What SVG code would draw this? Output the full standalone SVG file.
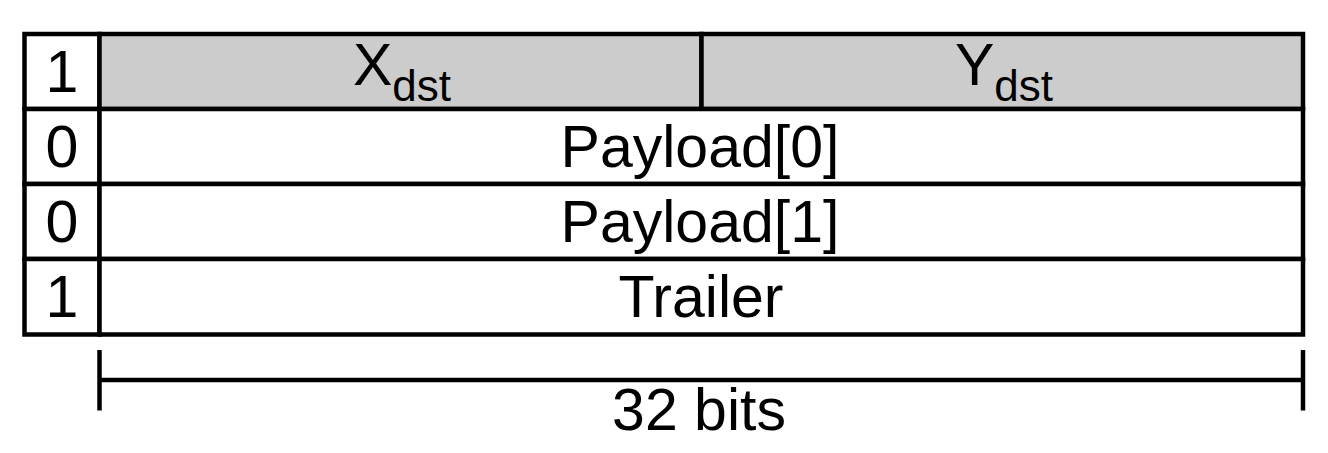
<svg xmlns="http://www.w3.org/2000/svg" width="1328" height="453" viewBox="0 0 1328 453">
  <style>
    .ln { stroke: #000; stroke-width: 4.5; fill: none; }
    .cell { stroke: #000; stroke-width: 4.5; fill: #fff; }
    .hdr { stroke: #000; stroke-width: 4.5; fill: #cccccc; }
    .t { font-family: "Liberation Sans", Arial, sans-serif; font-size: 59px; fill: #000; text-anchor: middle; }
    .sub { font-size: 44px; }
  </style>
  <rect x="0" y="0" width="1328" height="453" fill="#fff"/>
  <g id="row-header">
    <rect class="cell" x="24.5" y="34" width="75" height="75"/>
    <rect class="hdr" x="99.5" y="34" width="602" height="75"/>
    <rect class="hdr" x="701.5" y="34" width="601.5" height="75"/>
    <text class="t" x="62" y="92">1</text>
    <text class="t" x="402" y="85">X<tspan class="sub" dy="16">dst</tspan></text>
    <text class="t" x="1004" y="85">Y<tspan class="sub" dy="16">dst</tspan></text>
  </g>
  <g id="row-payload0">
    <rect class="cell" x="24.5" y="109" width="75" height="75"/>
    <rect class="cell" x="99.5" y="109" width="1203.5" height="75"/>
    <text class="t" x="62" y="167">0</text>
    <text class="t" x="700" y="167">Payload[0]</text>
  </g>
  <g id="row-payload1">
    <rect class="cell" x="24.5" y="184" width="75" height="75"/>
    <rect class="cell" x="99.5" y="184" width="1203.5" height="75"/>
    <text class="t" x="62" y="242">0</text>
    <text class="t" x="700" y="242">Payload[1]</text>
  </g>
  <g id="row-trailer">
    <rect class="cell" x="24.5" y="259" width="75" height="75.5"/>
    <rect class="cell" x="99.5" y="259" width="1203.5" height="75.5"/>
    <text class="t" x="62" y="317">1</text>
    <text class="t" x="701" y="317">Trailer</text>
  </g>
  <g id="connectors">
    <line class="ln" x1="99.5" y1="380" x2="1303" y2="380"/>
    <line class="ln" x1="99.5" y1="350" x2="99.5" y2="410.5"/>
    <line class="ln" x1="1303" y1="350" x2="1303" y2="410.5"/>
    <text class="t" x="699" y="430">32 bits</text>
  </g>
</svg>
